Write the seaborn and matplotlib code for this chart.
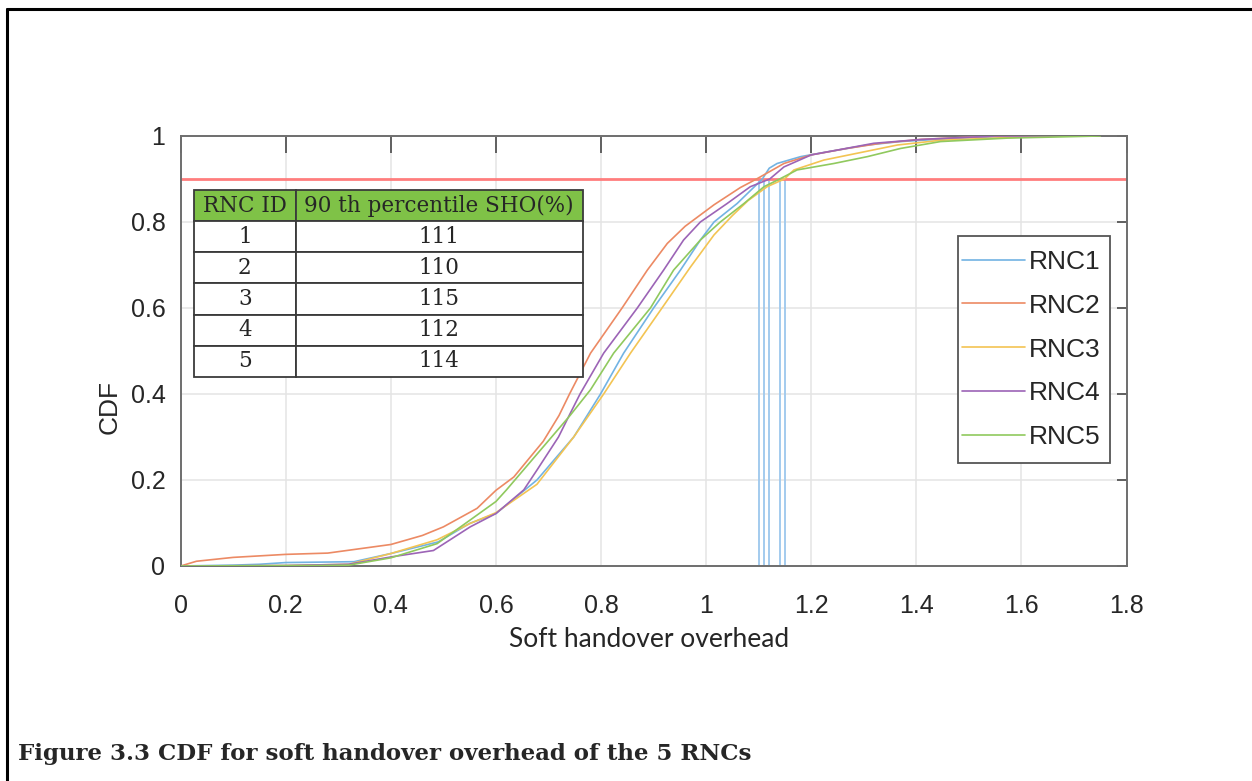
import numpy as np
import pandas as pd
import seaborn as sns
import matplotlib.pyplot as plt
from matplotlib.patches import Rectangle
from matplotlib.lines import Line2D

# ---- data ----
rnc_names = ["RNC1", "RNC2", "RNC3", "RNC4", "RNC5"]

rnc1_x = [0.0, 0.10, 0.15, 0.20, 0.33, 0.40, 0.49, 0.55, 0.60, 0.678, 0.748, 0.799, 0.843, 0.90,
          0.951, 0.989, 1.015, 1.059, 1.107, 1.12, 1.135, 1.18, 1.23, 1.307, 1.37, 1.478, 1.60, 1.72]
rnc1_y = [0.0, 0.002, 0.004, 0.008, 0.010, 0.029, 0.056, 0.099, 0.122, 0.20, 0.30, 0.40, 0.495, 0.60,
          0.688, 0.758, 0.80, 0.843, 0.90, 0.925, 0.936, 0.952, 0.963, 0.979, 0.987, 0.995, 1.0, 1.0]

rnc2_x = [0.0, 0.03, 0.10, 0.20, 0.28, 0.40, 0.46, 0.50, 0.564, 0.60, 0.634, 0.69, 0.72, 0.74, 0.78,
          0.84, 0.888, 0.926, 0.96, 1.015, 1.065, 1.096, 1.148, 1.20, 1.268, 1.332, 1.408, 1.55, 1.72]
rnc2_y = [0.0, 0.011, 0.02, 0.027, 0.03, 0.05, 0.071, 0.091, 0.134, 0.176, 0.207, 0.29, 0.35, 0.40, 0.495,
          0.60, 0.688, 0.75, 0.79, 0.84, 0.88, 0.90, 0.936, 0.956, 0.971, 0.983, 0.992, 1.0, 1.0]

rnc3_x = [0.0, 0.20, 0.32, 0.40, 0.488, 0.551, 0.60, 0.678, 0.748, 0.805, 0.856, 0.916, 0.97, 1.015,
          1.05, 1.08, 1.116, 1.149, 1.167, 1.224, 1.30, 1.364, 1.446, 1.65, 1.72]
rnc3_y = [0.0, 0.001, 0.004, 0.029, 0.061, 0.099, 0.124, 0.19, 0.30, 0.40, 0.495, 0.60, 0.695, 0.77,
          0.815, 0.85, 0.882, 0.90, 0.921, 0.944, 0.963, 0.979, 0.99, 1.0, 1.0]

rnc4_x = [0.0, 0.20, 0.32, 0.40, 0.481, 0.551, 0.60, 0.653, 0.678, 0.719, 0.741, 0.76, 0.805, 0.869,
          0.919, 0.957, 0.989, 1.04, 1.084, 1.121, 1.148, 1.20, 1.319, 1.41, 1.55, 1.72]
rnc4_y = [0.0, 0.001, 0.004, 0.021, 0.036, 0.091, 0.122, 0.177, 0.223, 0.30, 0.354, 0.40, 0.495, 0.60,
          0.688, 0.758, 0.80, 0.843, 0.882, 0.90, 0.928, 0.956, 0.983, 0.992, 1.0, 1.0]

rnc5_x = [0.0, 0.25, 0.32, 0.40, 0.488, 0.551, 0.60, 0.62, 0.678, 0.741, 0.78, 0.824, 0.894, 0.938,
          0.989, 1.027, 1.072, 1.11, 1.14, 1.173, 1.243, 1.307, 1.37, 1.446, 1.573, 1.75]
rnc5_y = [0.0, 0.001, 0.002, 0.019, 0.052, 0.107, 0.15, 0.177, 0.26, 0.35, 0.41, 0.495, 0.60, 0.688,
          0.758, 0.80, 0.843, 0.882, 0.90, 0.921, 0.936, 0.952, 0.971, 0.987, 0.995, 1.0]

rnc_ids = ["1", "2", "3", "4", "5"]
sho_90 = [111, 110, 115, 112, 114]      # 90th percentile SHO (%)
table_header = ["RNC ID", "90 th percentile SHO(%)"]
cdf_level = 0.9

x_ticks = [0, 0.2, 0.4, 0.6, 0.8, 1, 1.2, 1.4, 1.6, 1.8]
y_ticks = [0, 0.2, 0.4, 0.6, 0.8, 1]

colors = ["#72b3e3", "#ec8a64", "#f3c453", "#9c64b6", "#90c95e"]

# long table for seaborn
xs = [rnc1_x, rnc2_x, rnc3_x, rnc4_x, rnc5_x]
ys = [rnc1_y, rnc2_y, rnc3_y, rnc4_y, rnc5_y]
df = pd.concat([pd.DataFrame({"sho": x, "cdf": y, "rnc": n}) for x, y, n in zip(xs, ys, rnc_names)],
               ignore_index=True)

sns.set_style("white")
plt.rcParams['font.family'] = ['Liberation Sans', 'DejaVu Sans']

fig = plt.figure(figsize=(12.52, 7.81), dpi=100)
ax = fig.add_axes([0.1443, 0.2753, 0.7555, 0.5506])

sns.lineplot(data=df, x="sho", y="cdf", hue="rnc", palette=colors, ax=ax,
             linewidth=1.2, estimator=None, zorder=3)

# percentile markers
ax.vlines([v / 100 for v in sho_90], 0, cdf_level, colors="#a3cbee", linewidth=1.4, zorder=2)
ax.axhline(cdf_level, color="#ff7d7d", linewidth=2.0, zorder=2)

ax.set_xlim(0, 1.8)
ax.set_ylim(0, 1)
ax.set_xticks(x_ticks)
ax.set_xticklabels([f"{t:g}" for t in x_ticks])
ax.set_yticks(y_ticks)
ax.set_yticklabels([f"{t:g}" for t in y_ticks])
ax.grid(True, color="#e4e4e4", linewidth=1.1)
ax.set_axisbelow(True)
for s in ax.spines.values():
    s.set_color("#6e6e6e")
    s.set_linewidth(1.4)
ax.tick_params(axis="x", direction="in", length=12, width=1.3, color="#555555", pad=20,
               labelsize=18, top=True)
ax.tick_params(axis="y", direction="in", length=7, width=1.3, color="#555555", pad=11,
               labelsize=18, right=True)

ax.set_xlabel("Soft handover overhead", fontsize=19, family=["Lato", "DejaVu Sans"])
ax.xaxis.set_label_coords(0.495, -0.143)
ax.set_ylabel("CDF", fontsize=19)
ax.yaxis.set_label_coords(-0.062, 0.37)

# legend
ax.add_patch(Rectangle((0.822, 0.24), 0.161, 0.527, transform=ax.transAxes, facecolor="white",
                       edgecolor="#555555", linewidth=1.3, zorder=4))
sns.move_legend(ax, "upper left", bbox_to_anchor=(0.826, 0.735), frameon=False, title=None,
                fontsize=19, labelspacing=0.75, handlelength=2.4, handletextpad=0.15,
                borderpad=0, borderaxespad=0)
ax.get_legend().set_zorder(5)

# percentile table
tbl = ax.table(cellText=[[i, str(v)] for i, v in zip(rnc_ids, sho_90)], colLabels=table_header,
               cellLoc="center", colLoc="center", colWidths=[0.262, 0.738],
               bbox=[0.014, 0.44, 0.411, 0.434])
tbl.auto_set_font_size(False)
tbl.set_zorder(6)
for (r, c), cell in tbl.get_celld().items():
    cell.set_edgecolor("#3a3a3a")
    cell.set_linewidth(1.3)
    cell.get_text().set_fontfamily("DejaVu Serif")
    cell.get_text().set_fontsize(15.5)
    if r == 0:
        cell.set_facecolor("#7fc247")

# page frame and caption
fig.add_artist(Line2D([7 / 1252, 7 / 1252], [0, 1 - 9 / 781], transform=fig.transFigure,
                      color="black", linewidth=2.2))
fig.add_artist(Line2D([7 / 1252, 1], [1 - 9 / 781, 1 - 9 / 781], transform=fig.transFigure,
                      color="black", linewidth=2.2))
fig.text(18 / 1252, 1 - 754 / 781, "Figure 3.3 CDF for soft handover overhead of the 5 RNCs",
         family="DejaVu Serif", fontweight="bold", fontsize=16.5, va="center", ha="left")

fig.savefig("out.png", dpi=100, facecolor="white")
